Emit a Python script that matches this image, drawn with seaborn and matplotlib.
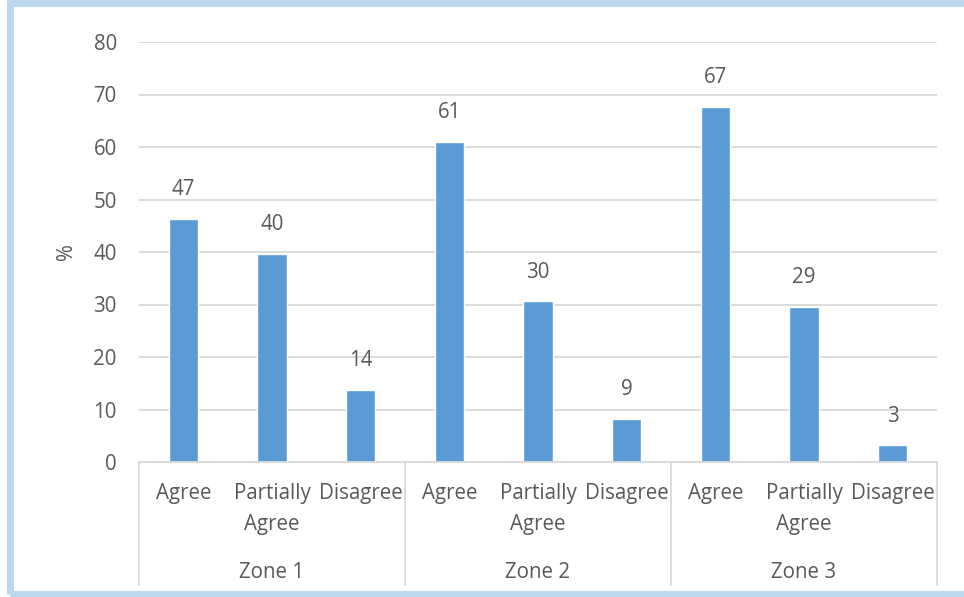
import numpy as np
import pandas as pd
import matplotlib
matplotlib.use("Agg")
import matplotlib.pyplot as plt
import matplotlib.transforms as mtransforms
from matplotlib.patches import Rectangle
import seaborn as sns

sns.set_theme(style="white")
plt.rcParams["font.family"] = ["Open Sans", "DejaVu Sans"]

zones = ["Zone 1", "Zone 2", "Zone 3"]
responses = ["Agree", "Partially\nAgree", "Disagree"]
values = [46.3, 39.7, 13.8, 61.0, 30.6, 8.2, 67.6, 29.6, 3.2]
value_labels = ["47", "40", "14", "61", "30", "9", "67", "29", "3"]

TEXT = "#595959"
GRID = "#D9D9D9"
BAR = "#5B9BD5"
FS = 14.8

df = pd.DataFrame({
    "zone": np.repeat(zones, len(responses)),
    "response": responses * len(zones),
    "pct": values,
})
df["slot"] = df["zone"] + "|" + df["response"]

fig = plt.figure(figsize=(9.64, 5.97), dpi=100)
ax = fig.add_axes([139 / 964, 135 / 597, 798 / 964, 420 / 597])

sns.barplot(data=df, x="slot", y="pct", color=BAR, saturation=1, width=0.33, ax=ax)

ax.set_ylim(0, 80)
ax.set_xlim(-0.5, len(df) - 0.5)
ax.set_yticks(range(0, 81, 10))
ax.yaxis.grid(True, color=GRID, linewidth=1.3)
ax.set_axisbelow(True)
ax.tick_params(axis="y", length=0, pad=16, labelsize=FS, labelcolor=TEXT)
ax.set_xticks([])
ax.set_xlabel("")
ax.set_ylabel("%", fontsize=FS, color=TEXT, labelpad=12)
for s in ["left", "right", "top"]:
    ax.spines[s].set_visible(False)
ax.spines["bottom"].set_color(GRID)
ax.spines["bottom"].set_linewidth(1.3)

# value labels above bars
for i, (v, lab) in enumerate(zip(df["pct"], value_labels)):
    ax.annotate(lab, (i, v), xytext=(0, 21), textcoords="offset points",
                ha="center", va="center", fontsize=FS, color=TEXT)

# two-level category axis
trans = mtransforms.blended_transform_factory(ax.transData, ax.transAxes)
for i, r in enumerate(df["response"]):
    ax.text(i, -0.05, r, transform=trans, ha="center", va="top",
            fontsize=FS, color=TEXT, linespacing=1.6)
n = len(responses)
for j, z in enumerate(zones):
    ax.text(j * n + (n - 1) / 2, -0.262, z, transform=trans, ha="center",
            va="center", fontsize=FS, color=TEXT)
for k in range(len(zones) + 1):
    xs = k * n - 0.5
    ax.plot([xs, xs], [0, -0.293], transform=trans, color=GRID,
            linewidth=1.3, clip_on=False)

# light blue frame around the chart
fig.patches.append(Rectangle((10 / 964, 3 / 597), 1.2, 591 / 597,
                             transform=fig.transFigure, fill=False,
                             edgecolor="#BDD7EE", linewidth=5))

fig.savefig("out.png", dpi=100)
